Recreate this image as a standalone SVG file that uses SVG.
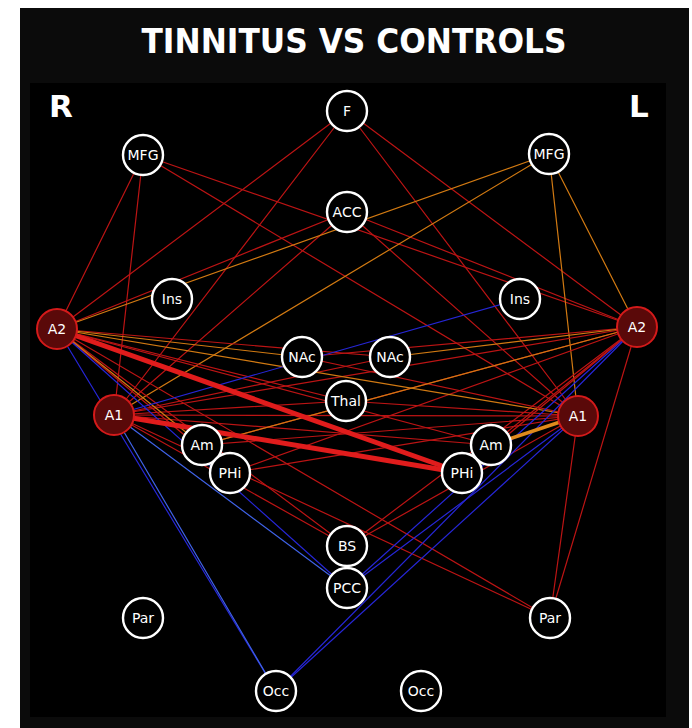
<svg xmlns="http://www.w3.org/2000/svg" width="692" height="728" viewBox="0 0 692 728">
<style>
.e{fill:none;stroke-linecap:round}
.r{stroke:#bc1414;stroke-width:1.2}
.o{stroke:#d27a12;stroke-width:1.2}
.b{stroke:#2626d6;stroke-width:1.2}
.bl{stroke:#3f62e6;stroke-width:1.2}
.R{stroke:#e01c1c;stroke-width:5}
.O{stroke:#e08a1c;stroke-width:3.5}
.n circle{fill:#000;stroke:#fff;stroke-width:2.4}
.h circle{fill:#5a0909;stroke:#d41a1a;stroke-width:2}
.n text,.h text{fill:#fff;font-family:"DejaVu Sans",Verdana,sans-serif;font-size:14px;text-anchor:middle;dominant-baseline:central}
.big{fill:#fff;font-family:"DejaVu Sans",Verdana,sans-serif;font-weight:bold}
</style>
<rect x="0" y="0" width="692" height="728" fill="#fff"/>
<rect x="20" y="8" width="669" height="720" fill="#0b0b0b"/>
<rect x="30" y="83" width="636" height="634" fill="#000"/>
<text class="big" x="354" y="53" font-size="34" text-anchor="middle" textLength="425" lengthAdjust="spacingAndGlyphs">TINNITUS VS CONTROLS</text>
<text class="big" x="49" y="117" font-size="31">R</text>
<text class="big" x="629" y="117" font-size="31">L</text>
<g id="connectors" class="e">
<line class="r" x1="347" y1="111" x2="57" y2="329"/>
<line class="r" x1="347" y1="111" x2="114" y2="415"/>
<line class="r" x1="347" y1="111" x2="637" y2="327"/>
<line class="r" x1="347" y1="111" x2="578" y2="416"/>
<line class="r" x1="143" y1="155" x2="57" y2="329"/>
<line class="r" x1="143" y1="155" x2="114" y2="415"/>
<line class="r" x1="143" y1="155" x2="637" y2="327"/>
<line class="r" x1="143" y1="155" x2="578" y2="416"/>
<line class="r" x1="347" y1="212" x2="57" y2="329"/>
<line class="r" x1="347" y1="212" x2="114" y2="415"/>
<line class="r" x1="347" y1="212" x2="637" y2="327"/>
<line class="r" x1="347" y1="212" x2="578" y2="416"/>
<line class="o" x1="549" y1="154" x2="637" y2="327"/>
<line class="o" x1="549" y1="154" x2="578" y2="416"/>
<line class="o" x1="549" y1="154" x2="57" y2="329"/>
<line class="o" x1="549" y1="154" x2="114" y2="415"/>
<line class="r" x1="57" y1="329" x2="346" y2="401"/>
<line class="r" x1="57" y1="329" x2="390" y2="357"/>
<line class="r" x1="57" y1="329" x2="491" y2="445"/>
<line class="r" x1="57" y1="329" x2="230" y2="473"/>
<line class="r" x1="57" y1="329" x2="347" y2="546"/>
<line class="r" x1="57" y1="329" x2="550" y2="618"/>
<line class="r" x1="114" y1="415" x2="390" y2="357"/>
<line class="r" x1="114" y1="415" x2="346" y2="401"/>
<line class="r" x1="114" y1="415" x2="491" y2="445"/>
<line class="r" x1="114" y1="415" x2="578" y2="416"/>
<line class="r" x1="114" y1="415" x2="347" y2="546"/>
<line class="r" x1="114" y1="415" x2="550" y2="618"/>
<line class="r" x1="114" y1="415" x2="637" y2="327"/>
<line class="r" x1="637" y1="327" x2="302" y2="357"/>
<line class="r" x1="637" y1="327" x2="202" y2="445"/>
<line class="r" x1="637" y1="327" x2="230" y2="473"/>
<line class="r" x1="637" y1="327" x2="491" y2="445"/>
<line class="r" x1="637" y1="327" x2="347" y2="546"/>
<line class="r" x1="637" y1="327" x2="550" y2="618"/>
<line class="r" x1="578" y1="416" x2="302" y2="357"/>
<line class="r" x1="578" y1="416" x2="346" y2="401"/>
<line class="r" x1="578" y1="416" x2="202" y2="445"/>
<line class="r" x1="578" y1="416" x2="230" y2="473"/>
<line class="r" x1="578" y1="416" x2="347" y2="546"/>
<line class="r" x1="578" y1="416" x2="550" y2="618"/>
<line class="o" x1="57" y1="329" x2="302" y2="357"/>
<line class="o" x1="390" y1="357" x2="637" y2="327"/>
<line class="o" x1="57" y1="329" x2="578" y2="416"/>
<line class="o" x1="202" y1="445" x2="637" y2="327"/>
<line class="o" x1="57" y1="329" x2="202" y2="445"/>
<line class="b" x1="114" y1="415" x2="520" y2="299"/>
<line class="b" x1="57" y1="329" x2="347" y2="588"/>
<line class="bl" x1="114" y1="415" x2="347" y2="588"/>
<line class="b" x1="57" y1="329" x2="276" y2="691"/>
<line class="bl" x1="114" y1="415" x2="276" y2="691"/>
<line class="b" x1="637" y1="327" x2="347" y2="588"/>
<line class="b" x1="578" y1="416" x2="347" y2="588"/>
<line class="b" x1="637" y1="327" x2="276" y2="691"/>
<line class="b" x1="578" y1="416" x2="276" y2="691"/>
<line class="r" x1="637" y1="327" x2="462" y2="473" stroke-width="2"/>
<line class="O" x1="578" y1="416" x2="491" y2="445"/>
<line class="R" x1="57" y1="329" x2="462" y2="473"/>
<line class="R" x1="114" y1="415" x2="462" y2="473"/>
</g>
<g id="F" class="n"><circle cx="347" cy="111" r="20"/><text x="347" y="111">F</text></g>
<g id="MFG-R" class="n"><circle cx="143" cy="155" r="20"/><text x="143" y="155">MFG</text></g>
<g id="MFG-L" class="n"><circle cx="549" cy="154" r="20"/><text x="549" y="154">MFG</text></g>
<g id="ACC" class="n"><circle cx="347" cy="212" r="20"/><text x="347" y="212">ACC</text></g>
<g id="Ins-R" class="n"><circle cx="172" cy="299" r="20"/><text x="172" y="299">Ins</text></g>
<g id="Ins-L" class="n"><circle cx="520" cy="299" r="20"/><text x="520" y="299">Ins</text></g>
<g id="NAc-R" class="n"><circle cx="302" cy="357" r="20"/><text x="302" y="357">NAc</text></g>
<g id="NAc-L" class="n"><circle cx="390" cy="357" r="20"/><text x="390" y="357">NAc</text></g>
<g id="Thal" class="n"><circle cx="346" cy="401" r="20"/><text x="346" y="401">Thal</text></g>
<g id="Am-R" class="n"><circle cx="202" cy="445" r="20"/><text x="202" y="445">Am</text></g>
<g id="PHi-R" class="n"><circle cx="230" cy="473" r="20"/><text x="230" y="473">PHi</text></g>
<g id="Am-L" class="n"><circle cx="491" cy="445" r="20"/><text x="491" y="445">Am</text></g>
<g id="PHi-L" class="n"><circle cx="462" cy="473" r="20"/><text x="462" y="473">PHi</text></g>
<g id="BS" class="n"><circle cx="347" cy="546" r="20"/><text x="347" y="546">BS</text></g>
<g id="PCC" class="n"><circle cx="347" cy="588" r="20"/><text x="347" y="588">PCC</text></g>
<g id="Par-R" class="n"><circle cx="143" cy="618" r="20"/><text x="143" y="618">Par</text></g>
<g id="Par-L" class="n"><circle cx="550" cy="618" r="20"/><text x="550" y="618">Par</text></g>
<g id="Occ-R" class="n"><circle cx="276" cy="691" r="20"/><text x="276" y="691">Occ</text></g>
<g id="Occ-L" class="n"><circle cx="421" cy="691" r="20"/><text x="421" y="691">Occ</text></g>
<g id="A2-R" class="h"><circle cx="57" cy="329" r="20"/><text x="57" y="329">A2</text></g>
<g id="A2-L" class="h"><circle cx="637" cy="327" r="20"/><text x="637" y="327">A2</text></g>
<g id="A1-R" class="h"><circle cx="114" cy="415" r="20"/><text x="114" y="415">A1</text></g>
<g id="A1-L" class="h"><circle cx="578" cy="416" r="20"/><text x="578" y="416">A1</text></g>
</svg>
